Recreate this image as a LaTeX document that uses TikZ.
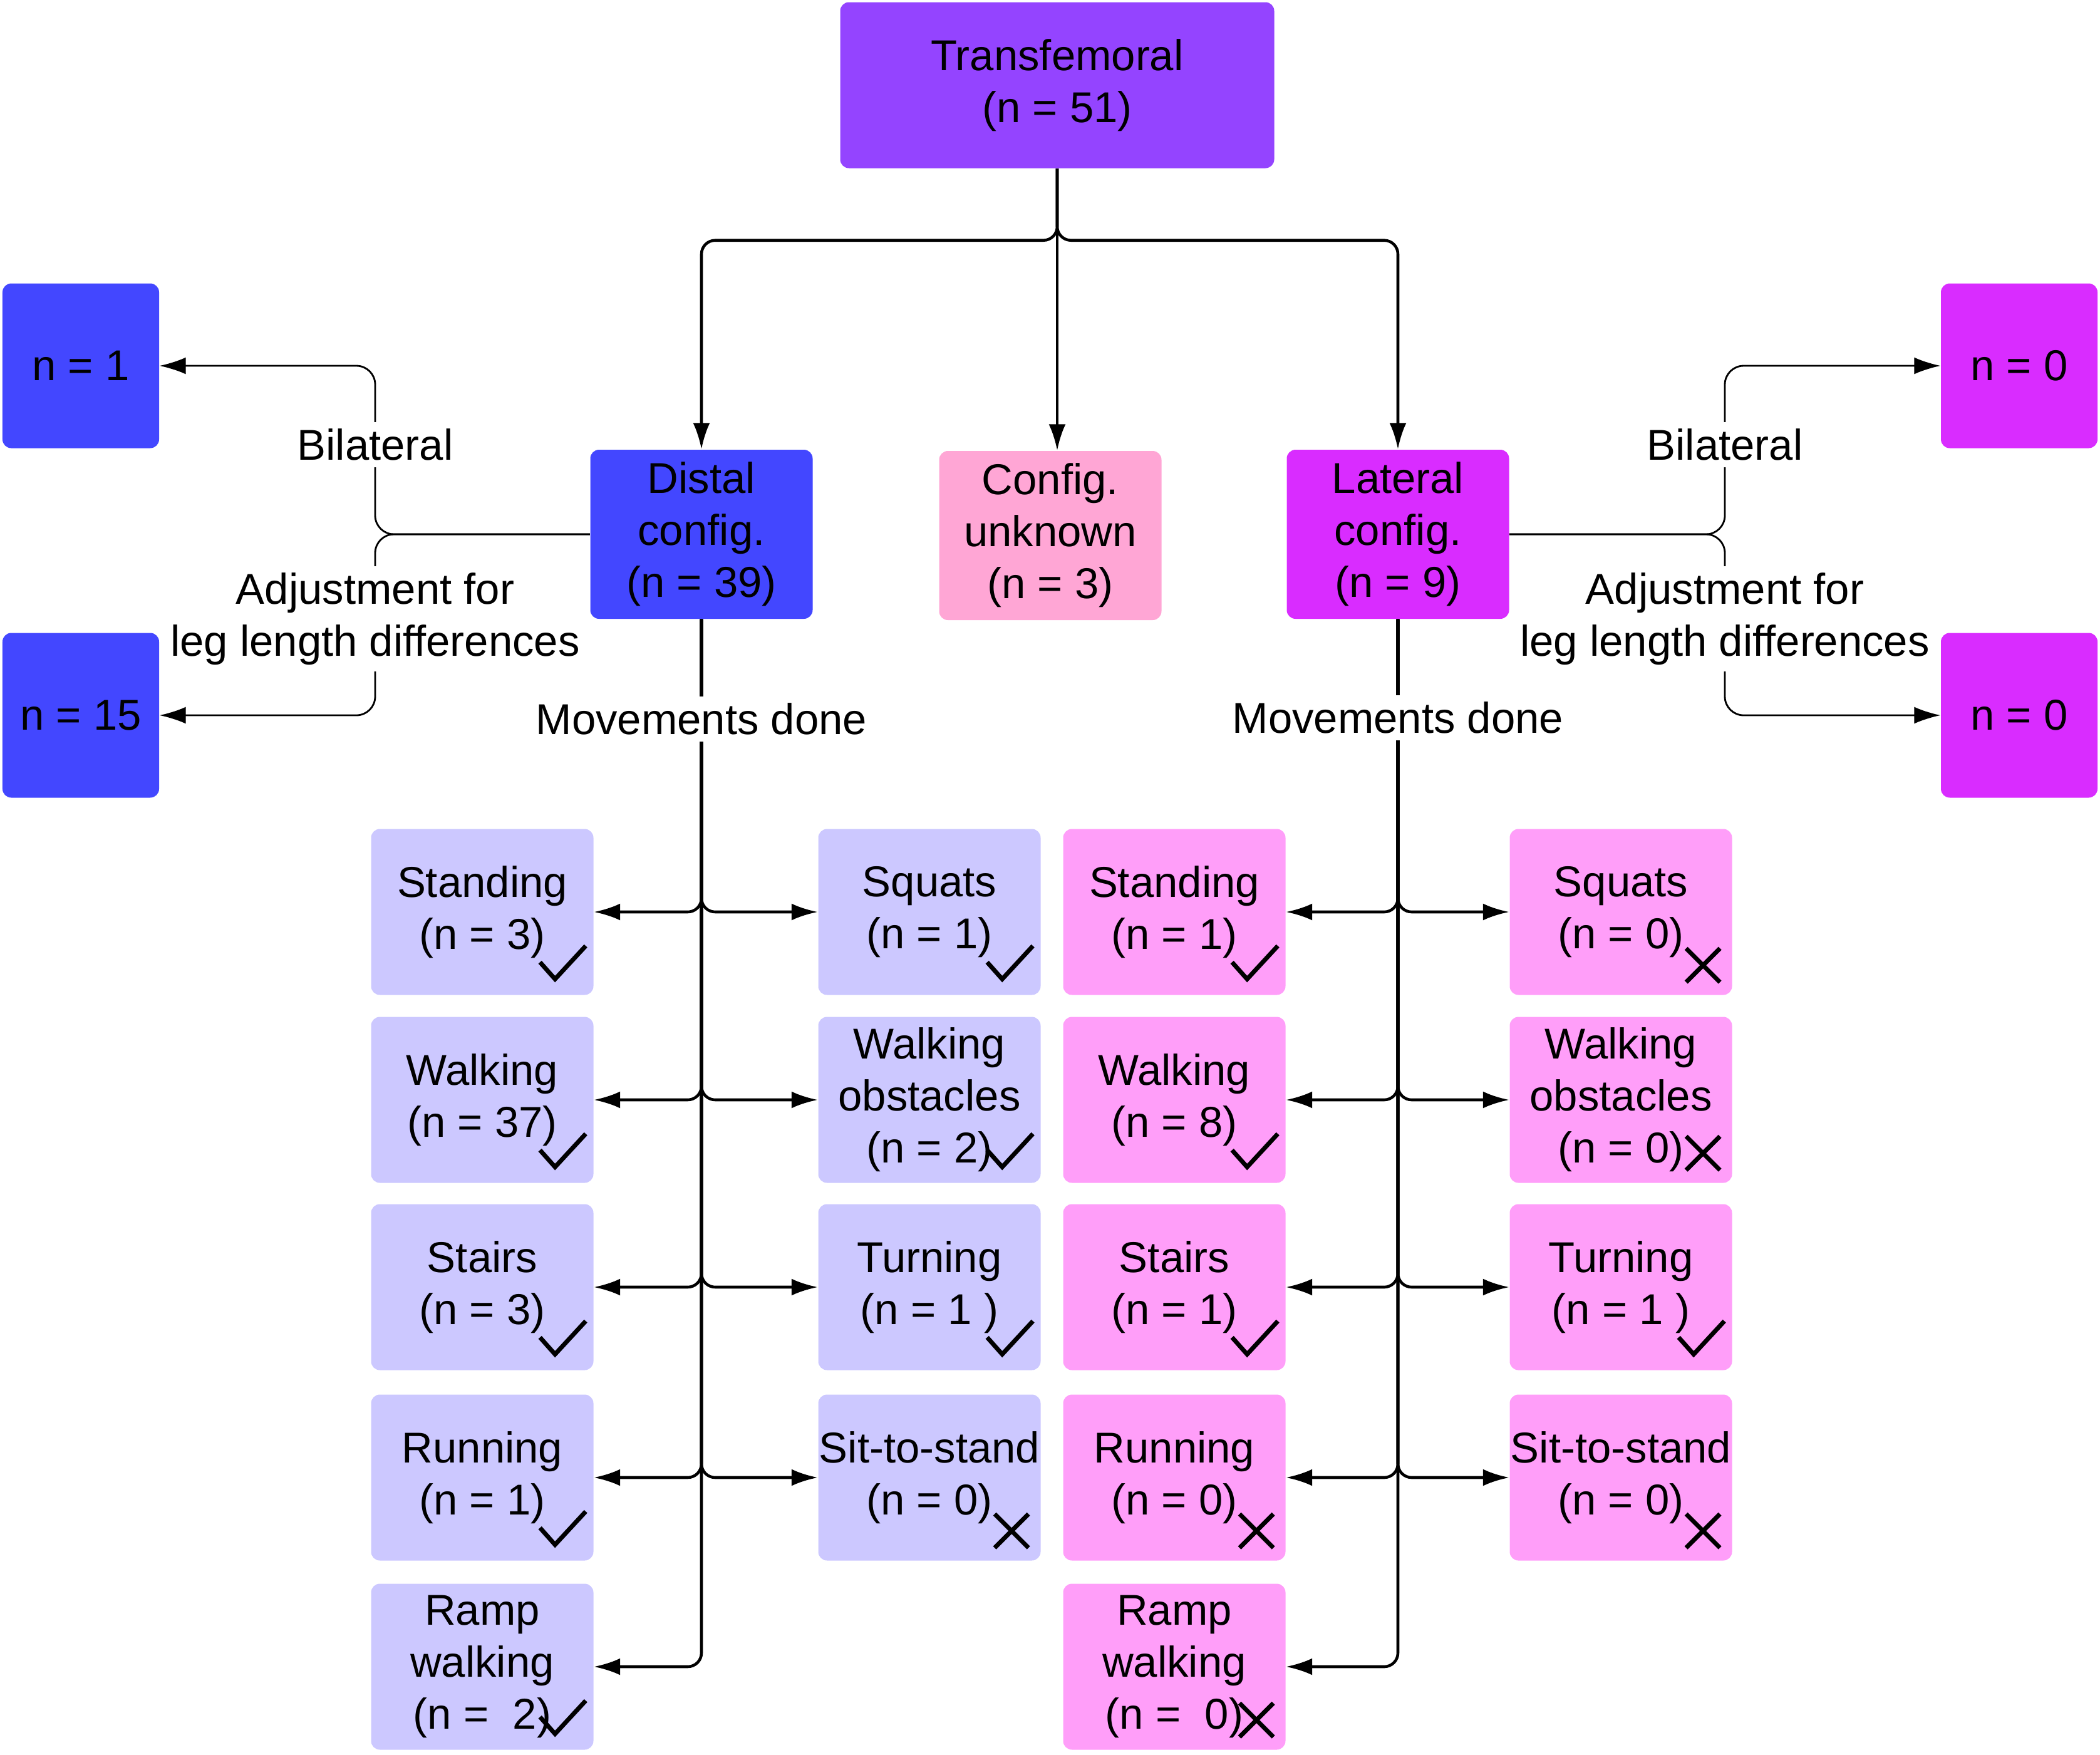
\documentclass[tikz,border=0pt]{standalone}
\usepackage{fontspec}
\setmainfont{Liberation Sans}
\usetikzlibrary{positioning,arrows.meta}
\definecolor{tfpurple}{HTML}{9444FF}
\definecolor{distblue}{HTML}{4347FF}
\definecolor{unkpink}{HTML}{FFA6D5}
\definecolor{latmag}{HTML}{D92CFF}
\definecolor{distlight}{HTML}{CCC8FF}
\definecolor{latlight}{HTML}{FF9EF9}
\tikzset{
box/.style={
  rectangle,
  rounded corners=0.14cm,
  fill=#1,
  minimum width=3.55cm,
  minimum height=2.65cm,
  align=center,
  inner sep=0pt,
  font=\fontsize{19.6}{23.6}\selectfont
  },
smallbox/.style={
  box=#1,
  minimum width=2.5cm,
  minimum height=2.63cm
  },
conn/.style={
  line width=1.3pt,
  rounded corners=0.22cm,
  -{Latex[length=0.42cm,width=0.27cm]}
  },
thinconn/.style={
  conn,
  line width=0.8pt,
  rounded corners=0.3cm
  },
lbl/.style={
  fill=white,
  inner sep=3pt,
  align=center,
  font=\fontsize{19.6}{23.6}\selectfont
  }
}
\newcommand{\yesmark}[1]{%
  \draw[line width=2pt] ([shift={(-0.86,0.53)}]#1.south east) -- ++(0.24,-0.27) -- ++(0.49,0.53);}
\newcommand{\nomark}[1]{%
  \draw[line width=2pt] ([shift={(-0.74,0.75)}]#1.south east) -- ++(0.54,-0.54)
    ([shift={(-0.74,0.21)}]#1.south east) -- ++(0.54,0.54);}

\begin{document}
\begin{tikzpicture}[>=latex]
\useasboundingbox (0,0) rectangle (33.53,-28.02);

% top level
\node[box=tfpurple,minimum width=6.93cm] (top) at (16.88,-1.36) {Transfemoral\\(n = 51)};

\node[box=distblue,minimum height=2.7cm] (distal) at (11.20,-8.53) {Distal\\config.\\(n = 39)};
\node[box=unkpink,minimum height=2.7cm] (unknown) at (16.77,-8.55) {Config.\\unknown\\(n = 3)};
\node[box=latmag,minimum height=2.7cm] (lateral) at (22.32,-8.53) {Lateral\\config.\\(n = 9)};

\node[smallbox=distblue] (dbil) at (1.29,-5.84) {n = 1};
\node[smallbox=distblue] (dleg) at (1.29,-11.42) {n = 15};
\node[smallbox=latmag] (lbil) at (32.24,-5.84) {n = 0};
\node[smallbox=latmag] (lleg) at (32.24,-11.42) {n = 0};

% distal movements
\node[box=distlight] (dstand) at (7.70,-14.56) {Standing\\(n = 3)};
\node[box=distlight] (dsquat) at (14.84,-14.56) {Squats\\(n = 1)};
\node[box=distlight] (dwalk) at (7.70,-17.56) {Walking\\(n = 37)};
\node[box=distlight] (dobst) at (14.84,-17.56) {Walking\\obstacles\\(n = 2)};
\node[box=distlight] (dstair) at (7.70,-20.55) {Stairs\\(n = 3)};
\node[box=distlight] (dturn) at (14.84,-20.55) {Turning\\(n = 1\ )};
\node[box=distlight] (drun) at (7.70,-23.59) {Running\\(n = 1)};
\node[box=distlight] (dsit) at (14.84,-23.59) {Sit-to-stand\\(n = 0)};
\node[box=distlight] (dramp) at (7.70,-26.61) {Ramp\\walking\\(n = ~2)};

% lateral movements
\node[box=latlight] (lstand) at (18.75,-14.56) {Standing\\(n = 1)};
\node[box=latlight] (lsquat) at (25.88,-14.56) {Squats\\(n = 0)};
\node[box=latlight] (lwalk) at (18.75,-17.56) {Walking\\(n = 8)};
\node[box=latlight] (lobst) at (25.88,-17.56) {Walking\\obstacles\\(n = 0)};
\node[box=latlight] (lstair) at (18.75,-20.55) {Stairs\\(n = 1)};
\node[box=latlight] (lturn) at (25.88,-20.55) {Turning\\(n = 1\ )};
\node[box=latlight] (lrun) at (18.75,-23.59) {Running\\(n = 0)};
\node[box=latlight] (lsit) at (25.88,-23.59) {Sit-to-stand\\(n = 0)};
\node[box=latlight] (lramp) at (18.75,-26.61) {Ramp\\walking\\(n = ~0)};

% marks
\yesmark{dstand} \yesmark{dsquat} \yesmark{dwalk} \yesmark{dobst} \yesmark{dstair}
\yesmark{dturn} \yesmark{drun} \nomark{dsit} \yesmark{dramp}
\yesmark{lstand} \nomark{lsquat} \yesmark{lwalk} \nomark{lobst} \yesmark{lstair}
\yesmark{lturn} \nomark{lrun} \nomark{lsit} \nomark{lramp}

% top connectors
\draw[conn] (top.south) -- ++(0,-1.145) -| (distal.north);
\draw[conn] (top.south) -- ++(0,-1.145) -| (lateral.north);
\draw[conn] (top.south) -- (top.south |- unknown.north);

% bilateral / leg length
\coordinate (dsplit) at (5.99,-8.53);
\coordinate (lsplit) at (27.54,-8.53);
\draw[thinconn] (distal.west) -- (dsplit) |- (dbil.east);
\draw[thinconn] (distal.west) -- (dsplit) |- (dleg.east);
\draw[thinconn] (lateral.east) -- (lsplit) |- (lbil.west);
\draw[thinconn] (lateral.east) -- (lsplit) |- (lleg.west);

% movements
\foreach \b in {dstand,dwalk,dstair,drun,dramp}
  \draw[conn] (distal.south) |- (\b.east);
\foreach \b in {dsquat,dobst,dturn,dsit}
  \draw[conn] (distal.south) |- (\b.west);
\foreach \b in {lstand,lwalk,lstair,lrun,lramp}
  \draw[conn] (lateral.south) |- (\b.east);
\foreach \b in {lsquat,lobst,lturn,lsit}
  \draw[conn] (lateral.south) |- (\b.west);

% labels
\node[lbl] (dbl) at (5.99,-7.10) {Bilateral};
\node[lbl] (dll) at (5.99,-9.88) {Adjustment for\\leg length differences};
\node[lbl] (lbl) at (27.54,-7.10) {Bilateral};
\node[lbl] (lll) at (27.54,-9.88) {Adjustment for\\leg length differences};
\node[lbl] (dmov) at (11.20,-11.48) {Movements done};
\node[lbl] (lmov) at (22.32,-11.46) {Movements done};
\end{tikzpicture}
\end{document}
